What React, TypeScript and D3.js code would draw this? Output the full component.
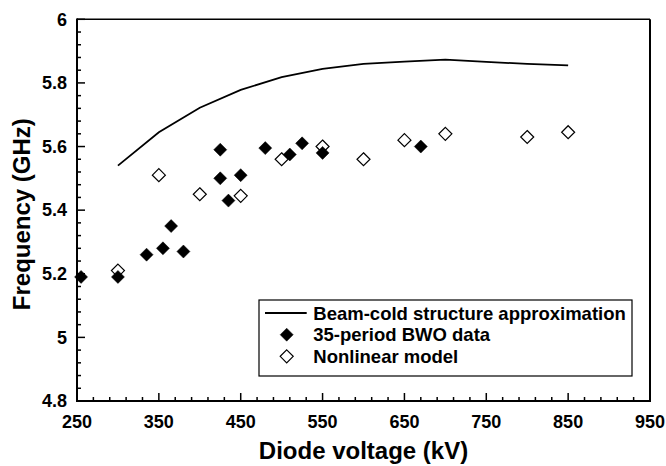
import React from "react";
import * as d3 from "d3";

const lineV = [300, 350, 400, 450, 500, 550, 600, 650, 700, 750, 800, 850];
const lineF = [5.54, 5.645, 5.722, 5.778, 5.818, 5.844, 5.86, 5.867, 5.873, 5.866, 5.86, 5.855];

const bwoV = [255, 300, 335, 355, 365, 380, 425, 425, 435, 450, 480, 510, 525, 550, 670];
const bwoF = [5.19, 5.19, 5.26, 5.28, 5.35, 5.27, 5.59, 5.5, 5.43, 5.51, 5.595, 5.575, 5.61, 5.58, 5.6];

const nlV = [300, 350, 400, 450, 500, 550, 600, 650, 700, 800, 850];
const nlF = [5.21, 5.51, 5.45, 5.445, 5.56, 5.6, 5.56, 5.62, 5.64, 5.63, 5.645];

const xTicks = [250, 350, 450, 550, 650, 750, 850, 950];
const yTicks = [4.8, 5, 5.2, 5.4, 5.6, 5.8, 6];
const yTickLabels = ["4.8", "5", "5.2", "5.4", "5.6", "5.8", "6"];

const legendLabels = [
  "Beam-cold structure approximation",
  "35-period BWO data",
  "Nonlinear model",
];

const W = 666;
const H = 466;
const L = 77, R = 650, T = 19.3, B = 401;
const FONT = "'Liberation Sans', Arial, Helvetica, sans-serif";

export default function App() {
  const x = d3.scaleLinear().domain([250, 950]).range([L, R]);
  const y = d3.scaleLinear().domain([4.8, 6]).range([B, T]);

  const xMinor = d3.range(250, 951, 20).filter((v) => !xTicks.includes(v));
  const yMinor = d3.range(0, 31).map((i) => 4.8 + i * 0.04).filter((v) => !yTicks.some((t) => Math.abs(t - v) < 1e-6));

  const linePath = d3
    .line<number>()
    .x((_, i) => x(lineV[i]))
    .y((d) => y(d))(lineF) as string;

  const dia = (cx: number, cy: number, r: number) =>
    `M${cx},${cy - r}L${cx + r},${cy}L${cx},${cy + r}L${cx - r},${cy}Z`;

  const lgX = 259, lgY = 300, lgW = 373, lgH = 76;
  const rowY = [313, 334.7, 356.3];

  return (
    <svg width={W} height={H} style={{ position: "absolute", left: 0, top: 0, background: "#fff" }} fontFamily={FONT}>
      <rect x={0} y={0} width={W} height={H} fill="#fff" />
      {/* frame */}
      <line x1={L} x2={R} y1={T} y2={T} stroke="#000" strokeWidth={1.5} />
      <line x1={R} x2={R} y1={T} y2={B} stroke="#000" strokeWidth={2} />
      <line x1={L} x2={L} y1={T - 0.75} y2={B + 1} stroke="#000" strokeWidth={2} />
      <line x1={L - 1} x2={R + 1} y1={B} y2={B} stroke="#000" strokeWidth={2} />
      {/* x ticks */}
      {xTicks.map((v) => (
        <line key={"xt" + v} x1={x(v)} x2={x(v)} y1={B} y2={B - 8} stroke="#000" strokeWidth={1.5} />
      ))}
      {xMinor.map((v) => (
        <line key={"xm" + v} x1={x(v)} x2={x(v)} y1={B} y2={B - 4} stroke="#000" strokeWidth={1.5} />
      ))}
      {xTicks.map((v) => (
        <text key={"xl" + v} x={x(v)} y={427.5} textAnchor="middle" fontSize={18} fontWeight="bold">
          {v}
        </text>
      ))}
      {/* y ticks */}
      {yTicks.map((v) => (
        <line key={"yt" + v} x1={L} x2={L + 8} y1={y(v)} y2={y(v)} stroke="#000" strokeWidth={1.5} />
      ))}
      {yMinor.map((v) => (
        <line key={"ym" + v} x1={L} x2={L + 4} y1={y(v)} y2={y(v)} stroke="#000" strokeWidth={1.5} />
      ))}
      {yTicks.map((v, i) => (
        <text key={"yl" + v} x={67} y={y(v) + 6.3} textAnchor="end" fontSize={18} fontWeight="bold">
          {yTickLabels[i]}
        </text>
      ))}
      {/* axis titles */}
      <text x={(L + R) / 2} y={459} textAnchor="middle" fontSize={24} fontWeight="bold">
        Diode voltage (kV)
      </text>
      <text
        transform={`translate(${30},${(T + B) / 2 + 4}) rotate(-90)`}
        textAnchor="middle"
        fontSize={24}
        fontWeight="bold"
      >
        Frequency (GHz)
      </text>
      {/* line */}
      <path d={linePath} fill="none" stroke="#000" strokeWidth={1.8} />
      {/* open diamonds */}
      {nlV.map((v, i) => (
        <path key={"nl" + i} d={dia(x(v), y(nlF[i]), 6.5)} fill="#fff" stroke="#000" strokeWidth={1.2} />
      ))}
      {/* filled diamonds */}
      {bwoV.map((v, i) => (
        <path key={"bw" + i} d={dia(x(v), y(bwoF[i]), 6.5)} fill="#000" stroke="#000" strokeWidth={0.5} />
      ))}
      {/* legend */}
      <rect x={lgX} y={lgY} width={lgW} height={lgH} fill="#fff" stroke="#000" strokeWidth={1.2} />
      <line x1={265} x2={306.7} y1={rowY[0]} y2={rowY[0]} stroke="#000" strokeWidth={1.8} />
      <path d={dia(286.7, rowY[1], 6.5)} fill="#000" stroke="#000" strokeWidth={0.5} />
      <path d={dia(286.7, rowY[2], 6.5)} fill="#fff" stroke="#000" strokeWidth={1.2} />
      {legendLabels.map((t, i) => (
        <text key={t} x={313.3} y={rowY[i] + 6.5} fontSize={18.5} fontWeight="bold">
          {t}
        </text>
      ))}
    </svg>
  );
}
